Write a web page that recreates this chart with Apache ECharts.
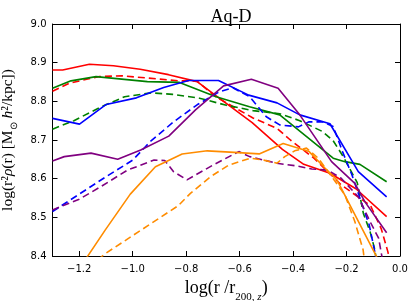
<!DOCTYPE html>
<html><head><meta charset="utf-8">
<script src="https://cdn.jsdelivr.net/npm/echarts@6/dist/echarts.min.js"></script>
<style>html,body{margin:0;padding:0;background:#fff}#c{width:415px;height:301px}</style>
</head><body><div id="c"></div><script>
// ---- data (log r/r200,z , log r^2 rho) ----
const xTicks = [-1.2, -1.0, -0.8, -0.6, -0.4, -0.2, 0.0];
const yTicks = [8.4, 8.5, 8.6, 8.7, 8.8, 8.9, 9.0];

const redSolid = [[-1.30,8.881],[-1.262,8.881],[-1.162,8.896],[-1.072,8.892],[-0.972,8.883],[-0.866,8.869],[-0.759,8.851],[-0.66,8.800],[-0.553,8.745],[-0.44,8.676],[-0.36,8.637],[-0.262,8.614],[-0.165,8.574],[-0.05,8.502]];
const redDashed = [[-1.30,8.826],[-1.237,8.847],[-1.125,8.864],[-1.04,8.866],[-0.94,8.860],[-0.83,8.853],[-0.76,8.853],[-0.69,8.812],[-0.55,8.757],[-0.46,8.730],[-0.41,8.700],[-0.32,8.652],[-0.22,8.584],[-0.11,8.530],[-0.07,8.470],[-0.045,8.410],[-0.035,8.37]];
const greenSolid = [[-1.30,8.834],[-1.231,8.853],[-1.137,8.864],[-0.945,8.851],[-0.825,8.849],[-0.688,8.812],[-0.563,8.786],[-0.45,8.765],[-0.25,8.653],[-0.206,8.644],[-0.15,8.637],[-0.05,8.592]];
const greenDashed = [[-1.30,8.728],[-1.22,8.750],[-1.12,8.785],[-1.03,8.812],[-0.93,8.822],[-0.85,8.818],[-0.75,8.808],[-0.65,8.790],[-0.55,8.776],[-0.45,8.768],[-0.375,8.750],[-0.29,8.722],[-0.25,8.698],[-0.215,8.660],[-0.16,8.590],[-0.137,8.510],[-0.112,8.463],[-0.094,8.416],[-0.085,8.37]];
const blueSolid = [[-1.30,8.756],[-1.199,8.741],[-1.099,8.792],[-0.986,8.809],[-0.884,8.836],[-0.791,8.854],[-0.679,8.854],[-0.566,8.816],[-0.46,8.796],[-0.375,8.765],[-0.262,8.742],[-0.156,8.618],[-0.05,8.553]];
const blueDashed = [[-1.30,8.515],[-1.20,8.560],[-1.10,8.605],[-1.00,8.648],[-0.934,8.696],[-0.847,8.747],[-0.759,8.791],[-0.675,8.825],[-0.625,8.835],[-0.5625,8.812],[-0.50,8.760],[-0.45,8.739],[-0.38,8.734],[-0.34,8.747],[-0.29,8.747],[-0.25,8.735],[-0.215,8.670],[-0.18,8.610],[-0.15,8.550],[-0.115,8.480],[-0.094,8.410],[-0.085,8.37]];
const purpleSolid = [[-1.30,8.646],[-1.256,8.657],[-1.156,8.666],[-1.056,8.650],[-0.97,8.674],[-0.865,8.710],[-0.765,8.778],[-0.66,8.840],[-0.556,8.857],[-0.456,8.834],[-0.375,8.765],[-0.256,8.644],[-0.169,8.588],[-0.131,8.540],[-0.05,8.460]];
const purpleDashed = [[-1.30,8.519],[-1.20,8.547],[-1.12,8.579],[-1.02,8.622],[-0.92,8.648],[-0.88,8.647],[-0.847,8.618],[-0.797,8.597],[-0.70,8.635],[-0.603,8.670],[-0.5625,8.657],[-0.4625,8.640],[-0.387,8.633],[-0.33,8.625],[-0.27,8.622],[-0.22,8.601],[-0.156,8.553],[-0.112,8.489],[-0.08,8.446],[-0.068,8.40],[-0.063,8.37]];
const orangeSolid = [[-1.197,8.37],[-1.103,8.467],[-1.009,8.560],[-0.915,8.631],[-0.815,8.664],[-0.721,8.672],[-0.620,8.668],[-0.527,8.664],[-0.437,8.691],[-0.34,8.670],[-0.28,8.627],[-0.236,8.597],[-0.094,8.407],[-0.06,8.36]];
const orangeDashed = [[-1.13,8.39],[-1.105,8.405],[-0.83,8.530],[-0.784,8.562],[-0.709,8.605],[-0.641,8.635],[-0.56,8.653],[-0.51,8.648],[-0.46,8.640],[-0.431,8.657],[-0.394,8.672],[-0.35,8.679],[-0.306,8.653],[-0.269,8.618],[-0.206,8.558],[-0.169,8.489],[-0.138,8.416],[-0.13,8.37]];

const seriesDefs = [
  {data: redSolid, color: '#ff0000', dashed: false},
  {data: redDashed, color: '#ff0000', dashed: true},
  {data: greenSolid, color: '#008000', dashed: false},
  {data: greenDashed, color: '#008000', dashed: true},
  {data: blueSolid, color: '#0000ff', dashed: false},
  {data: blueDashed, color: '#0000ff', dashed: true},
  {data: purpleSolid, color: '#800080', dashed: false},
  {data: purpleDashed, color: '#800080', dashed: true},
  {data: orangeSolid, color: '#ff8c00', dashed: false},
  {data: orangeDashed, color: '#ff8c00', dashed: true}
];

const serif = 'Liberation Serif';
const sans = 'DejaVu Sans';
const fmt = v => (Math.abs(v) < 1e-9 ? 0 : v).toFixed(1).replace('-', '\u2212');
const axLine = {show: true, onZero: false, lineStyle: {color: '#000', width: 1}};
const tick = vals => ({show: true, inside: true, length: 5, customValues: vals, lineStyle: {color: '#000', width: 1}});

const chart = echarts.init(document.getElementById('c'), null, {renderer: 'canvas'});
chart.setOption({
  animation: false,
  backgroundColor: '#fff',
  title: {text: 'Aq-D', left: 226, top: 3, textAlign: 'center',
    textStyle: {fontFamily: serif, fontSize: 18, fontWeight: 'normal', color: '#000'}},
  grid: {left: 52.5, right: 15, top: 24, bottom: 45, containLabel: false, outerBoundsMode: 'none'},
  xAxis: [
    {type: 'value', min: -1.3, max: 0, position: 'bottom',
     axisLine: axLine, axisTick: tick(xTicks), splitLine: {show: false},
     axisLabel: {customValues: xTicks, formatter: fmt, fontFamily: sans, fontSize: 10, color: '#000', margin: 8},
     name: 'log(r /r{sub|200, }{subi|z})', nameLocation: 'middle', nameGap: 18,
     nameTextStyle: {fontFamily: serif, fontSize: 18, color: '#000',
       rich: {sub: {fontFamily: serif, fontSize: 11, verticalAlign: 'bottom', padding: [0,0,-6,0]},
              subi: {fontFamily: serif, fontSize: 11, fontStyle: 'italic', verticalAlign: 'bottom', padding: [0,0,-6,0]}}}},
    {type: 'value', min: -1.3, max: 0, position: 'top',
     axisLine: axLine, axisTick: tick(xTicks), axisLabel: {show: false}, splitLine: {show: false}}
  ],
  yAxis: [
    {type: 'value', min: 8.4, max: 9.0, interval: 0.1, position: 'left',
     axisLine: axLine, axisTick: {show: true, inside: true, length: 5, lineStyle: {color: '#000'}}, splitLine: {show: false},
     axisLabel: {formatter: fmt, fontFamily: sans, fontSize: 10, color: '#000', margin: 6},
     name: 'log(r\u00b2{it|\u03c1}(r) [M{sub|\u2299} {it|h}\u00b2/kpc])', nameLocation: 'middle', nameGap: 23, nameRotate: 90,
     nameTextStyle: {fontFamily: serif, fontSize: 15.5, color: '#000',
       rich: {it: {fontFamily: serif, fontSize: 15.5, fontStyle: 'italic'},
              sub: {fontFamily: serif, fontSize: 10, verticalAlign: 'bottom', padding: [0,0,-4,0]}}}},
    {type: 'value', min: 8.4, max: 9.0, interval: 0.1, position: 'right',
     axisLine: axLine, axisTick: {show: true, inside: true, length: 5, lineStyle: {color: '#000'}},
     axisLabel: {show: false}, splitLine: {show: false}}
  ],
  series: seriesDefs.map(s => ({
    type: 'line', data: s.data, xAxisIndex: 0, yAxisIndex: 0,
    symbol: 'none', smooth: false, clip: true,
    lineStyle: {color: s.color, width: 1.6, type: s.dashed ? [7, 4] : 'solid'},
    itemStyle: {color: s.color}
  }))
});
</script></body></html>
